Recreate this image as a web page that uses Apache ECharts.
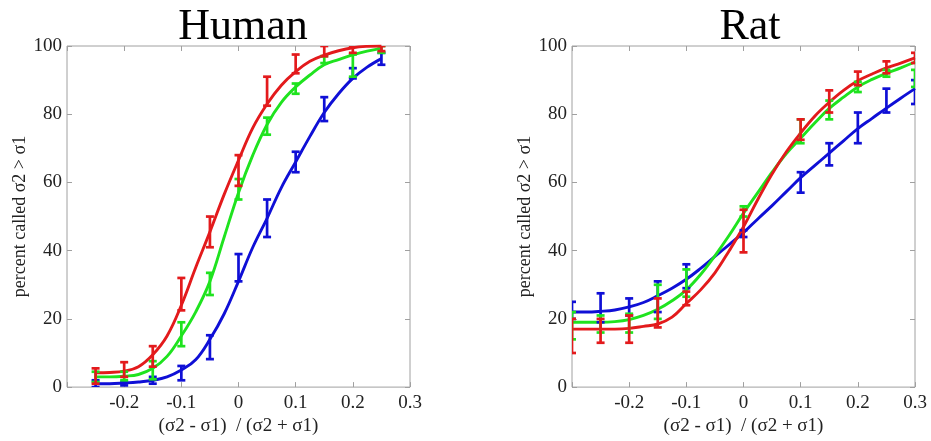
<!DOCTYPE html>
<html>
<head>
<meta charset="utf-8">
<script src="https://cdn.jsdelivr.net/npm/echarts@6/dist/echarts.min.js"></script>
<style>
html,body{margin:0;padding:0;background:#fff;}
#chart{width:931px;height:441px;}
</style>
</head>
<body>
<div id="chart"></div>
<script>
// ---------- data ----------
const titles = ['Human', 'Rat'];
const xTicks = [-0.3, -0.2, -0.1, 0, 0.1, 0.2, 0.3];
const yTicks = [0, 20, 40, 60, 80, 100];

// Human: measured points (error bar low / high)
const humanX = [-0.25, -0.2, -0.15, -0.1, -0.05, 0, 0.05, 0.1, 0.15, 0.2, 0.25];
const humanRedLow   = [1, 3, 6, 22.5, 41, 59, 82.5, 92, 97, 98, 98.5];
const humanRedHigh  = [5.5, 7.3, 12, 32, 50, 68, 91, 97.5, 100, 100, 100];
const humanGreenLow = [1.5, 2, 2.3, 12, 27, 55, 74, 86, 95, 91, 98];
const humanGreenHigh= [4.5, 4.5, 7.6, 19, 33.5, 61, 79, 89, 97, 97.5, 100];
const humanBlueLow  = [0, 0.5, 1, 2, 8.2, 31, 44, 63, 78, 90.5, 94.5];
const humanBlueHigh = [2, 1.5, 3, 6.2, 15.2, 39, 55, 69, 85, 93.5, 98];

// Human: fitted curves
const humanCurveX = [-0.25,-0.225,-0.2,-0.175,-0.15,-0.125,-0.1,-0.075,-0.05,-0.025,0,0.025,0.05,0.075,0.1,0.125,0.15,0.175,0.2,0.225,0.25];
const humanRedCurve   = [4.2,4.3,4.7,6,9.5,15,24,35,45.5,56.5,66.5,76,83,88.5,92.5,95.5,97.3,98.6,99.5,99.9,100];
const humanGreenCurve = [3,3,3.2,3.7,5.5,9,15,22,31,44,57,68,77,83.5,88,91.5,94.5,96,97.4,98.5,99.3];
const humanBlueCurve  = [1,1,1.2,1.5,2,3,5,8,14,21.5,31,41,49.5,58.5,66,73.5,80.5,86,90.5,93.8,96.3];

// Rat: measured points (error bar low / high)
const ratX = [-0.3, -0.25, -0.2, -0.15, -0.1, 0, 0.1, 0.15, 0.2, 0.25, 0.3];
const ratRedLow    = [10, 13, 13, 17.5, 24, 39.5, 72.5, 80.5, 88.5, 92, 95];
const ratRedHigh   = [20, 20, 21, 26, 28, 52, 78.5, 87, 92.5, 95.5, 98];
const ratGreenLow  = [14, 16, 16, 20, 26.5, 50, 71.5, 78.5, 86.5, 91, 88];
const ratGreenHigh = [22, 21, 21.5, 30, 34.5, 53, 78.5, 84, 89.5, 93, 93];
const ratBlueLow   = [20, 19, 21, 22, 29, 44, 57, 65, 71.5, 80.5, 83];
const ratBlueHigh  = [25, 27.5, 26, 31, 36, 46, 63, 71.5, 80.5, 87.5, 90];

// Rat: fitted curves
const ratCurveX = [-0.3,-0.275,-0.25,-0.225,-0.2,-0.175,-0.15,-0.125,-0.1,-0.075,-0.05,-0.025,0,0.025,0.05,0.075,0.1,0.125,0.15,0.175,0.2,0.225,0.25,0.275,0.3];
const ratRedCurve   = [17,17,17,17,17.2,17.8,18.5,20.5,24.5,28.5,33.5,40,47,55,62.5,69,74.5,79.5,83.5,87,89.8,91.8,93.6,95,96.5];
const ratGreenCurve = [19,19,19,19.2,19.8,21,22.8,25.3,28.5,33,38.5,44.5,51,57,63,68.5,73,77.5,81.7,85,88,90.2,92,93.6,95.3];
const ratBlueCurve  = [22,22,22.2,22.6,23.5,24.8,26.8,29,31.6,34.8,38.3,41.8,45.3,49.3,53.2,57.3,61.4,65,68.6,72.2,75.8,78.8,81.8,84.7,87.5];

// ---------- styles ----------
const RED = '#e31a1c', GREEN = '#1fe31f', BLUE = '#0f0fd6';
const FONT = "'Liberation Serif', 'Times New Roman', serif";
const AXC = '#a0a0a0';

function zip(a, b) { return a.map((v, i) => [v, b[i]]); }

function curve(xs, ys, color, idx) {
  return {
    type: 'line', xAxisIndex: idx, yAxisIndex: idx,
    data: zip(xs, ys), smooth: 0.4, showSymbol: false, symbol: 'none',
    lineStyle: { color: color, width: 2.9 }, silent: true, z: 3
  };
}
function errBars(xs, lo, hi, color, idx) {
  return {
    type: 'custom', xAxisIndex: idx, yAxisIndex: idx, clip: true, silent: true, z: 4,
    data: xs.map((x, i) => [x, lo[i], hi[i]]),
    encode: { x: 0, y: [1, 2] },
    renderItem: function (params, api) {
      const x = api.value(0);
      const p1 = api.coord([x, api.value(1)]);
      const p2 = api.coord([x, api.value(2)]);
      const w = 4;
      const st = { stroke: color, lineWidth: 2.7 };
      return {
        type: 'group',
        children: [
          { type: 'line', shape: { x1: p1[0], y1: p1[1], x2: p2[0], y2: p2[1] }, style: st },
          { type: 'line', shape: { x1: p1[0] - w, y1: p1[1], x2: p1[0] + w, y2: p1[1] }, style: st },
          { type: 'line', shape: { x1: p2[0] - w, y1: p2[1], x2: p2[0] + w, y2: p2[1] }, style: st }
        ]
      };
    }
  };
}

function fmtX(v) {
  const r = Math.round(v * 10) / 10;
  if (r < -0.25) return '';
  return String(r);
}

const grids = [
  { left: 67, top: 46, width: 343, height: 342, show: true, borderColor: AXC, borderWidth: 1 },
  { left: 572, top: 46, width: 343, height: 342, show: true, borderColor: AXC, borderWidth: 1 }
];

const xAxes = [], yAxes = [];
const tick = { show: true, inside: true, length: 5, lineStyle: { color: AXC } };
const noLine = { show: false, onZero: false };
[0, 1].forEach(g => {
  xAxes.push({
    gridIndex: g, type: 'value', min: -0.3, max: 0.3, interval: 0.1, position: 'bottom',
    axisLine: noLine, axisTick: tick, splitLine: { show: false },
    axisLabel: { formatter: fmtX, color: '#222', fontFamily: FONT, fontSize: 19, margin: 6 },
    name: '(σ2 - σ1)  / (σ2 + σ1)', nameLocation: 'middle', nameGap: 27,
    nameTextStyle: { color: '#222', fontFamily: FONT, fontSize: 19 }
  });
  yAxes.push({
    gridIndex: g, type: 'value', min: 0, max: 100, interval: 20, position: 'left',
    axisLine: noLine, axisTick: tick, splitLine: { show: false },
    axisLabel: { color: '#222', fontFamily: FONT, fontSize: 19, margin: 5 },
    name: 'percent called σ2 > σ1', nameLocation: 'middle', nameGap: 34,
    nameTextStyle: { color: '#222', fontFamily: FONT, fontSize: 18 }
  });
});
[0, 1].forEach(g => {
  xAxes.push({
    gridIndex: g, type: 'value', min: -0.3, max: 0.3, interval: 0.1, position: 'top',
    axisLine: noLine, axisTick: tick, splitLine: { show: false }, axisLabel: { show: false }
  });
  yAxes.push({
    gridIndex: g, type: 'value', min: 0, max: 100, interval: 20, position: 'right',
    axisLine: noLine, axisTick: tick, splitLine: { show: false }, axisLabel: { show: false }
  });
});

const option = {
  backgroundColor: '#fff',
  animation: false,
  title: [
    { text: titles[0], left: 238, top: 0, textAlign: 'center',
      textStyle: { fontFamily: FONT, fontSize: 44, fontWeight: 'normal', color: '#000' } },
    { text: titles[1], left: 745, top: 0, textAlign: 'center',
      textStyle: { fontFamily: FONT, fontSize: 44, fontWeight: 'normal', color: '#000' } }
  ],
  grid: grids,
  xAxis: xAxes,
  yAxis: yAxes,
  series: [
    curve(humanCurveX, humanBlueCurve, BLUE, 0),
    curve(humanCurveX, humanGreenCurve, GREEN, 0),
    curve(humanCurveX, humanRedCurve, RED, 0),
    errBars(humanX, humanBlueLow, humanBlueHigh, BLUE, 0),
    errBars(humanX, humanGreenLow, humanGreenHigh, GREEN, 0),
    errBars(humanX, humanRedLow, humanRedHigh, RED, 0),
    curve(ratCurveX, ratBlueCurve, BLUE, 1),
    curve(ratCurveX, ratGreenCurve, GREEN, 1),
    curve(ratCurveX, ratRedCurve, RED, 1),
    errBars(ratX, ratBlueLow, ratBlueHigh, BLUE, 1),
    errBars(ratX, ratGreenLow, ratGreenHigh, GREEN, 1),
    errBars(ratX, ratRedLow, ratRedHigh, RED, 1)
  ]
};

const chart = echarts.init(document.getElementById('chart'), null, { renderer: 'canvas' });
chart.setOption(option);
</script>
</body>
</html>
